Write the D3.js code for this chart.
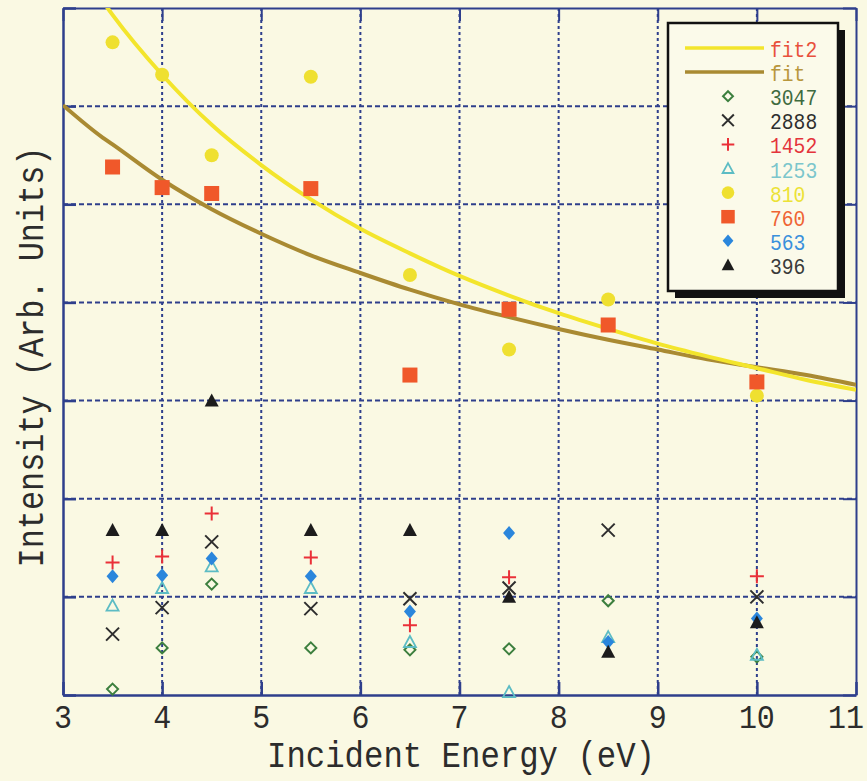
<!DOCTYPE html>
<html>
<head>
<meta charset="utf-8">
<script src="https://cdn.jsdelivr.net/npm/d3@7"></script>
<style>
  html, body { margin: 0; padding: 0; background: #faf9e3; }
  svg { display: block; }
</style>
</head>
<body>
<svg id="chart" width="867" height="781"></svg>
<script>
// Incident energies (eV) at which intensities were measured
const energies = [3.5, 4, 4.5, 5.5, 6.5, 7.5, 8.5, 10];

// Measured intensities (arb. units) for each series, aligned with `energies`
const s3047 = [0.06, 0.48, 1.13, 0.48, 0.46, 0.47, 0.96, 0.39];
const s2888 = [0.62, 0.89, 1.56, 0.88, 0.98, 1.09, 1.68, 1.00];
const s1452 = [1.35, 1.41, 1.85, 1.40, 0.71, 1.20, null, 1.21];
const s1253 = [0.91, 1.09, 1.31, 1.09, 0.54, 0.03, 0.59, 0.41];
const s810  = [6.65, 6.32, 5.50, 6.30, 4.28, 3.52, 4.03, 3.05];
const s760  = [5.38, 5.17, 5.11, 5.16, 3.26, 3.93, 3.77, 3.19];
const s563  = [1.21, 1.22, 1.39, 1.21, 0.85, 1.65, 0.54, 0.78];
const s396  = [1.68, 1.68, 3.00, 1.68, 1.68, 1.00, 0.44, 0.74];

// Fitted curves sampled along the energy axis
const fitEnergies = [3, 3.4, 3.5, 4, 4.5, 5, 5.5, 6, 6.5, 7, 7.5, 8, 8.5, 9, 9.5, 10, 10.5, 11];
const fit2Values  = [null, 7.07, 6.93, 6.32, 5.81, 5.40, 5.05, 4.75, 4.50, 4.27, 4.07, 3.89, 3.73, 3.58, 3.45, 3.33, 3.21, 3.11];
const fitValues   = [6.01, 5.68, 5.61, 5.25, 4.95, 4.70, 4.48, 4.30, 4.13, 3.98, 3.85, 3.73, 3.62, 3.52, 3.42, 3.34, 3.26, 3.16];

// Axis ticks
const xTicks = [3, 4, 5, 6, 7, 8, 9, 10, 11];
const yTicks = [0, 1, 2, 3, 4, 5, 6, 7];

const series = [
  { name: "3047", values: s3047, symbol: "diamondOpen", color: "#3c7f3e", text: "#3f6b3f" },
  { name: "2888", values: s2888, symbol: "cross",       color: "#2e2e2e", text: "#2e2e2e" },
  { name: "1452", values: s1452, symbol: "plus",        color: "#ea3038", text: "#e4343c" },
  { name: "1253", values: s1253, symbol: "triOpen",     color: "#5cbcc4", text: "#7cc6cc" },
  { name: "810",  values: s810,  symbol: "circle",      color: "#efe030", text: "#ece236" },
  { name: "760",  values: s760,  symbol: "square",      color: "#f0582a", text: "#ef6434" },
  { name: "563",  values: s563,  symbol: "diamond",     color: "#2a86dc", text: "#3a90dc" },
  { name: "396",  values: s396,  symbol: "triangle",    color: "#1c1c1c", text: "#3a3a3a" }
];

const svg = d3.select("#chart");
const L = 63, R = 856, T = 8, B = 695;
const x = d3.scaleLinear().domain([3, 11]).range([L, R]);
const y = d3.scaleLinear().domain([0, 7]).range([B, T]);

const navy = "#2e3f8c";
const mono = "'Liberation Mono', 'DejaVu Sans Mono', monospace";
const ink = "#2c2c2c";

svg.append("defs").append("clipPath").attr("id", "plotClip")
  .append("rect").attr("x", L).attr("y", T).attr("width", R - L).attr("height", B - T);

// Dotted grid
const grid = svg.append("g");
grid.selectAll("line.gx").data(xTicks.slice(1, -1)).join("line")
  .attr("x1", d => x(d)).attr("x2", d => x(d)).attr("y1", T).attr("y2", B)
  .attr("stroke", navy).attr("stroke-width", 2).attr("stroke-dasharray", "3,3");
grid.selectAll("line.gy").data(yTicks.slice(1, -1)).join("line")
  .attr("x1", L).attr("x2", R).attr("y1", d => y(d)).attr("y2", d => y(d))
  .attr("stroke", navy).attr("stroke-width", 2).attr("stroke-dasharray", "5,3");

// Frame with inward ticks on all four sides
const tk = 13;
svg.append("g").attr("transform", `translate(0,${B})`)
  .call(d3.axisBottom(x).tickValues(xTicks).tickSizeInner(-tk).tickSizeOuter(0).tickFormat(""))
  .call(g => g.selectAll("line, path").attr("stroke", navy).attr("stroke-width", 2.5));
svg.append("g").attr("transform", `translate(0,${T})`)
  .call(d3.axisTop(x).tickValues(xTicks).tickSizeInner(-tk).tickSizeOuter(0).tickFormat(""))
  .call(g => g.selectAll("line, path").attr("stroke", navy).attr("stroke-width", 2));
svg.append("g").attr("transform", `translate(${L},0)`)
  .call(d3.axisLeft(y).tickValues(yTicks).tickSizeInner(-tk).tickSizeOuter(0).tickFormat(""))
  .call(g => g.selectAll("line, path").attr("stroke", navy).attr("stroke-width", 2.5));
svg.append("g").attr("transform", `translate(${R},0)`)
  .call(d3.axisRight(y).tickValues(yTicks).tickSizeInner(-tk).tickSizeOuter(0).tickFormat(""))
  .call(g => g.selectAll("line, path").attr("stroke", navy).attr("stroke-width", 2));

// X tick labels (the last one sits flush with the right edge)
const lastTick = xTicks[xTicks.length - 1];
svg.append("g").selectAll("text").data(xTicks).join("text")
  .attr("x", d => d === lastTick ? 864 : x(d)).attr("y", 728)
  .attr("text-anchor", d => d === lastTick ? "end" : "middle")
  .attr("font-family", mono).attr("font-size", 33).attr("fill", ink)
  .attr("textLength", d => String(d).length * 18).attr("lengthAdjust", "spacingAndGlyphs")
  .text(d => d);

// Axis titles
svg.append("text")
  .attr("x", 461).attr("y", 767).attr("text-anchor", "middle")
  .attr("font-family", mono).attr("font-size", 36).attr("fill", ink)
  .attr("textLength", 388).attr("lengthAdjust", "spacingAndGlyphs")
  .text("Incident Energy (eV)");
svg.append("text")
  .attr("transform", "translate(43,357) rotate(-90)").attr("text-anchor", "middle")
  .attr("font-family", mono).attr("font-size", 37).attr("fill", ink)
  .attr("textLength", 421).attr("lengthAdjust", "spacingAndGlyphs")
  .text("Intensity (Arb. Units)");

// Fitted curves
const plot = svg.append("g").attr("clip-path", "url(#plotClip)");
const fitLine = vals => d3.line()
  .defined((d, i) => vals[i] != null)
  .x(d => x(d)).y((d, i) => y(vals[i]))
  .curve(d3.curveMonotoneX)(fitEnergies);

plot.append("path").attr("d", fitLine(fitValues))
  .attr("fill", "none").attr("stroke", "#a98a32").attr("stroke-width", 4);
plot.append("path").attr("d", fitLine(fit2Values))
  .attr("fill", "none").attr("stroke", "#f3e52c").attr("stroke-width", 4);

// Marker shapes
function drawSymbol(g, type, cx, cy, color, scale = 1) {
  const s = scale;
  switch (type) {
    case "circle":
      g.append("circle").attr("cx", cx).attr("cy", cy).attr("r", 7 * s).attr("fill", color);
      break;
    case "square":
      g.append("rect").attr("x", cx - 7.5 * s).attr("y", cy - 7.5 * s)
        .attr("width", 15 * s).attr("height", 15 * s).attr("fill", color);
      break;
    case "diamond":
      g.append("path").attr("d", `M${cx},${cy - 7 * s}L${cx + 6 * s},${cy}L${cx},${cy + 7 * s}L${cx - 6 * s},${cy}Z`)
        .attr("fill", color);
      break;
    case "diamondOpen":
      g.append("path").attr("d", `M${cx},${cy - 5.5 * s}L${cx + 5.5 * s},${cy}L${cx},${cy + 5.5 * s}L${cx - 5.5 * s},${cy}Z`)
        .attr("fill", "none").attr("stroke", color).attr("stroke-width", 2);
      break;
    case "triangle":
      g.append("path").attr("d", `M${cx},${cy - 7 * s}L${cx + 7 * s},${cy + 6 * s}L${cx - 7 * s},${cy + 6 * s}Z`)
        .attr("fill", color);
      break;
    case "triOpen":
      g.append("path").attr("d", `M${cx},${cy - 6 * s}L${cx + 6 * s},${cy + 5 * s}L${cx - 6 * s},${cy + 5 * s}Z`)
        .attr("fill", "none").attr("stroke", color).attr("stroke-width", 1.8);
      break;
    case "cross":
      g.append("path").attr("d", `M${cx - 6.5 * s},${cy - 6.5 * s}L${cx + 6.5 * s},${cy + 6.5 * s}M${cx + 6.5 * s},${cy - 6.5 * s}L${cx - 6.5 * s},${cy + 6.5 * s}`)
        .attr("stroke", color).attr("stroke-width", 2);
      break;
    case "plus":
      g.append("path").attr("d", `M${cx - 7 * s},${cy}L${cx + 7 * s},${cy}M${cx},${cy - 7 * s}L${cx},${cy + 7 * s}`)
        .attr("stroke", color).attr("stroke-width", 2);
      break;
  }
}

// Data points
const pts = svg.append("g");
series.forEach(sr => {
  const g = pts.append("g");
  energies.forEach((e, i) => {
    const v = sr.values[i];
    if (v == null) return;
    drawSymbol(g, sr.symbol, x(e), y(v), sr.color);
  });
});

// Legend box with drop shadow
const lg = svg.append("g");
const lx = 668, ly = 23, lw = 170, lh = 268;
lg.append("rect").attr("x", lx + 7).attr("y", ly + 7).attr("width", lw).attr("height", lh).attr("fill", "#111");
lg.append("rect").attr("x", lx).attr("y", ly).attr("width", lw).attr("height", lh)
  .attr("fill", "#fbfaea").attr("stroke", "#111").attr("stroke-width", 2.5);

const legendRows = [
  { name: "fit2", line: "#f3e52c", text: "#e8503c" },
  { name: "fit",  line: "#a98a32", text: "#b8963c" }
].concat(series);
const rowY = i => 57 + i * 24.1;
const textX = 770, symX = 728;

legendRows.forEach((r, i) => {
  const by = rowY(i);
  const cy = by - 9;
  if (r.line) {
    lg.append("line").attr("x1", 685).attr("x2", 764).attr("y1", cy).attr("y2", cy)
      .attr("stroke", r.line).attr("stroke-width", 3.5);
  } else {
    drawSymbol(lg, r.symbol, symX, cy, r.color, 0.9);
  }
  lg.append("text").attr("x", textX).attr("y", by)
    .attr("font-family", mono).attr("font-size", 22).attr("fill", r.text)
    .attr("textLength", r.name.length * 11.8).attr("lengthAdjust", "spacingAndGlyphs")
    .text(r.name);
});
</script>
</body>
</html>
